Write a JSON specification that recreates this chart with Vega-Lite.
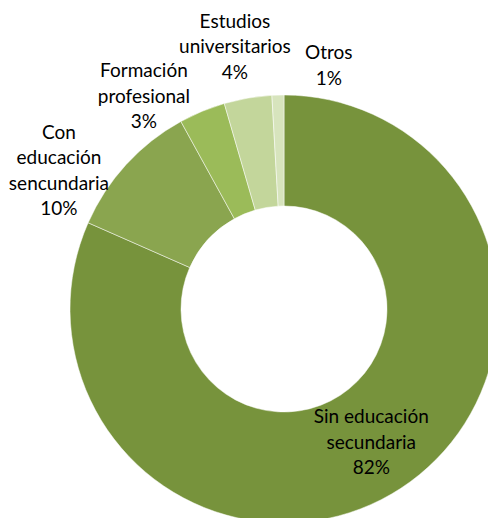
{
  "$schema": "https://vega.github.io/schema/vega-lite/v6.json",
  "autosize": {"type": "none"},
  "padding": {"left": 80, "top": 100, "right": 0, "bottom": 0},
  "width": 408,
  "height": 418,
  "background": "#ffffff",
  "config": {"view": {"stroke": null}},
  "data": {
    "values": [
      {"orden": 1, "categoria": "Sin educación secundaria", "valor": 81.6, "etiqueta": "Sin educación\nsecundaria\n82%"},
      {"orden": 2, "categoria": "Con educación sencundaria", "valor": 10.4, "etiqueta": "Con\neducación\nsencundaria\n10%"},
      {"orden": 3, "categoria": "Formación profesional", "valor": 3.5, "etiqueta": "Formación\nprofesional\n3%"},
      {"orden": 4, "categoria": "Estudios universitarios", "valor": 3.6, "etiqueta": "Estudios\nuniversitarios\n4%"},
      {"orden": 5, "categoria": "Otros", "valor": 0.9, "etiqueta": "Otros\n1%"}
    ]
  },
  "encoding": {
    "theta": {"field": "valor", "type": "quantitative", "stack": true},
    "order": {"field": "orden", "type": "quantitative", "sort": "ascending"}
  },
  "layer": [
    {
      "mark": {"type": "arc", "outerRadius": 214, "innerRadius": 103, "stroke": "#ffffff", "strokeWidth": 0.5},
      "encoding": {
        "color": {
          "field": "categoria",
          "type": "nominal",
          "legend": null,
          "scale": {
            "domain": ["Sin educación secundaria", "Con educación sencundaria", "Formación profesional", "Estudios universitarios", "Otros"],
            "range": ["#77933C", "#8AA54F", "#9BBB59", "#C3D69B", "#D7E4BD"]
          }
        }
      }
    },
    {
      "mark": {"type": "text", "radius": 157, "dx": 1.5, "dy": -23, "font": "Lato", "fontSize": 19, "lineHeight": 25.5, "lineBreak": "\n", "align": "center", "baseline": "middle", "color": "#000000"},
      "encoding": {"text": {"condition": {"test": "datum.orden === 1", "field": "etiqueta"}, "value": ""}}
    },
    {
      "mark": {"type": "text", "radius": 255, "dx": -37, "dy": -4, "font": "Lato", "fontSize": 19, "lineHeight": 25.5, "lineBreak": "\n", "align": "center", "baseline": "middle", "color": "#000000"},
      "encoding": {"text": {"condition": {"test": "datum.orden === 2", "field": "etiqueta"}, "value": ""}}
    },
    {
      "mark": {"type": "text", "radius": 255, "dx": -42.5, "dy": -2, "font": "Lato", "fontSize": 19, "lineHeight": 25.5, "lineBreak": "\n", "align": "center", "baseline": "middle", "color": "#000000"},
      "encoding": {"text": {"condition": {"test": "datum.orden === 3", "field": "etiqueta"}, "value": ""}}
    },
    {
      "mark": {"type": "text", "radius": 255, "dx": -6, "dy": -36, "font": "Lato", "fontSize": 19, "lineHeight": 25.5, "lineBreak": "\n", "align": "center", "baseline": "middle", "color": "#000000"},
      "encoding": {"text": {"condition": {"test": "datum.orden === 4", "field": "etiqueta"}, "value": ""}}
    },
    {
      "mark": {"type": "text", "radius": 255, "dx": 52, "dy": -1, "font": "Lato", "fontSize": 19, "lineHeight": 25.5, "lineBreak": "\n", "align": "center", "baseline": "middle", "color": "#000000"},
      "encoding": {"text": {"condition": {"test": "datum.orden === 5", "field": "etiqueta"}, "value": ""}}
    }
  ]
}
